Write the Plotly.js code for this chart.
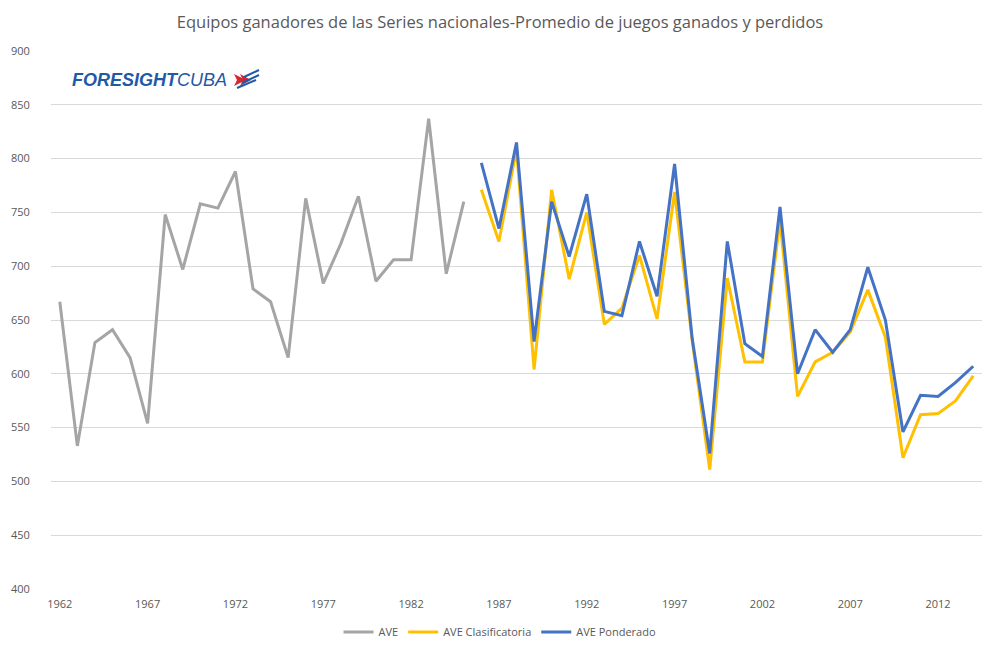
<!DOCTYPE html>
<html>
<head>
<meta charset="utf-8">
<script src="https://cdn.plot.ly/plotly-3.0.1.min.js"></script>
<style>
  html, body { margin: 0; padding: 0; background: #ffffff; }
  #chart { width: 1000px; height: 653px; }
</style>
</head>
<body>
<div id="chart"></div>
<script>
// Seasons of the Serie Nacional
const years = [
  1962, 1963, 1964, 1965, 1966, 1967, 1968, 1969, 1970, 1971,
  1972, 1973, 1974, 1975, 1976, 1977, 1978, 1979, 1980, 1981,
  1982, 1983, 1984, 1985, 1986, 1987, 1988, 1989, 1990, 1991,
  1992, 1993, 1994, 1995, 1996, 1997, 1998, 1999, 2000, 2001,
  2002, 2003, 2004, 2005, 2006, 2007, 2008, 2009, 2010, 2011,
  2012, 2013, 2014
];

// Winning-team average, 1962-1985
const ave = [
  667, 533, 629, 641, 615, 554, 748, 697, 758, 754,
  788, 679, 667, 615, 763, 684, 721, 765, 686, 706,
  706, 837, 693, 760
];

// Regular-phase average, 1986-2014
const aveClasificatoria = [
  771, 723, 809, 604, 771, 688, 750, 646, 661, 710,
  651, 769, 631, 511, 689, 611, 611, 743, 579, 611,
  620, 639, 678, 634, 522, 562, 563, 575, 598
];

// Weighted average, 1986-2014
const avePonderado = [
  796, 735, 815, 630, 760, 709, 767, 658, 654, 723,
  672, 795, 633, 526, 723, 628, 616, 755, 600, 641,
  620, 641, 699, 650, 546, 580, 579, 592, 607
];

const seriesNames = ['AVE', 'AVE Clasificatoria', 'AVE Ponderado'];
const tickYears = [1962, 1967, 1972, 1977, 1982, 1987, 1992, 1997, 2002, 2007, 2012];
const yTicks = [400, 450, 500, 550, 600, 650, 700, 750, 800, 850, 900];

const earlyYears = years.slice(0, ave.length);
const lateYears = years.slice(ave.length);

const W = 1000, H = 653;
const margin = { l: 51, r: 18, t: 51, b: 64 };
const font = "'Open Sans', 'Liberation Sans', sans-serif";
const textGrey = '#595959';

// pixel -> paper helpers for the logo drawing
const plotW = W - margin.l - margin.r;
const plotH = H - margin.t - margin.b;
const px = v => (v - margin.l) / plotW;
const py = v => (H - margin.b - v) / plotH;

function line(name, x, y, color) {
  return {
    type: 'scatter', mode: 'lines', name: name, x: x, y: y,
    line: { color: color, width: 3, shape: 'linear' },
    hoverinfo: 'x+y'
  };
}

const data = [
  line(seriesNames[0], earlyYears, ave, '#a5a5a5'),
  line(seriesNames[1], lateYears, aveClasificatoria, '#ffc000'),
  line(seriesNames[2], lateYears, avePonderado, '#4472c4')
];

// Logo mark: red pennant and blue streaks
function path(points) {
  return 'M' + points.map(p => px(p[0]) + ',' + py(p[1])).join(' L') + ' Z';
}
const logoShapes = [
  { type: 'path', xref: 'paper', yref: 'paper', path: path([[234, 74], [246, 80], [234, 86], [237, 80]]),
    fillcolor: '#d7262e', line: { width: 0 } },
  { type: 'path', xref: 'paper', yref: 'paper', path: path([[240, 74], [251, 80], [240, 86], [243, 80]]),
    fillcolor: '#d7262e', line: { width: 0 } },
  { type: 'line', xref: 'paper', yref: 'paper', x0: px(244), y0: py(77), x1: px(259), y1: py(70),
    line: { color: '#1f5aa6', width: 2 } },
  { type: 'line', xref: 'paper', yref: 'paper', x0: px(242), y0: py(83), x1: px(259), y1: py(75),
    line: { color: '#1f5aa6', width: 2 } },
  { type: 'line', xref: 'paper', yref: 'paper', x0: px(237), y0: py(88), x1: px(256), y1: py(80),
    line: { color: '#1f5aa6', width: 2 } }
];

const layout = {
  width: W, height: H,
  margin: margin,
  paper_bgcolor: '#ffffff',
  plot_bgcolor: '#ffffff',
  font: { family: font, color: textGrey, size: 11 },
  title: {
    text: 'Equipos ganadores de las Series nacionales-Promedio de juegos ganados y perdidos',
    font: { family: font, size: 16.5, color: textGrey },
    x: 0.5, xref: 'container', xanchor: 'center',
    y: 1 - 22 / H, yref: 'container', yanchor: 'middle'
  },
  xaxis: {
    range: [1961.5, 2014.5],
    tickmode: 'array', tickvals: tickYears, ticktext: tickYears.map(String),
    showgrid: false, zeroline: false, showline: false,
    ticks: 'outside', ticklen: 5, tickcolor: 'rgba(0,0,0,0)',
    tickfont: { family: font, size: 11, color: textGrey },
    fixedrange: true
  },
  yaxis: {
    range: [400, 900],
    tickmode: 'array', tickvals: yTicks, ticktext: yTicks.map(String),
    showgrid: true, gridcolor: '#d9d9d9', gridwidth: 1,
    zeroline: false, showline: false,
    ticks: 'outside', ticklen: 18, tickcolor: 'rgba(0,0,0,0)',
    tickfont: { family: font, size: 11, color: textGrey },
    fixedrange: true
  },
  showlegend: true,
  legend: {
    orientation: 'h',
    x: 0.5, xref: 'container', xanchor: 'center',
    y: 1 - 632 / H, yref: 'container', yanchor: 'middle',
    font: { family: font, size: 11, color: textGrey },
    itemwidth: 30, tracegroupgap: 0,
    bgcolor: 'rgba(0,0,0,0)'
  },
  annotations: [{
    text: '<i><b>FORESIGHT</b>CUBA</i>',
    xref: 'paper', yref: 'paper',
    x: px(70), y: py(80), xanchor: 'left', yanchor: 'middle',
    showarrow: false,
    font: { family: "'Liberation Sans', Arial, sans-serif", size: 18, color: '#1f5aa6' }
  }],
  shapes: logoShapes
};

Plotly.newPlot('chart', data, layout, { displayModeBar: false, staticPlot: true });
</script>
</body>
</html>
